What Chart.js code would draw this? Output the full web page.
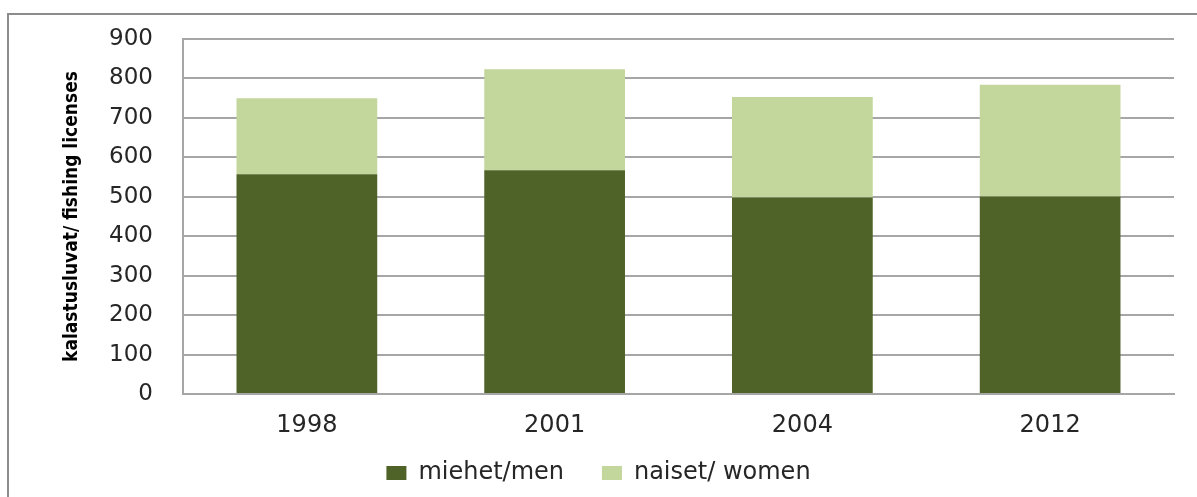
<!DOCTYPE html>
<html>
<head>
<meta charset="utf-8">
<script src="https://cdn.jsdelivr.net/npm/chart.js@4.4.1/dist/chart.umd.min.js"></script>
<style>
  html, body { margin: 0; padding: 0; background: #fff; }
  #wrap { position: relative; width: 1197px; height: 497px; overflow: hidden; }
  #frame { position: absolute; left: 7px; top: 13px; width: 1300px; height: 600px; border: 2px solid #8c8c8c; }
  #chart { position: absolute; left: 0; top: 0; }
</style>
</head>
<body>
<div id="wrap">
  <div id="frame"></div>
  <canvas id="chart" width="1197" height="497"></canvas>
</div>
<script>
// 年ごとのデータ
const years = ['1998', '2001', '2004', '2012'];
const men = [557, 567, 498, 501];
const women = [193, 256, 255, 283];
const yTicks = [0, 100, 200, 300, 400, 500, 600, 700, 800, 900];

const tickFont = { family: "'DejaVu Sans', Verdana, sans-serif", size: 23 };
const labelFont = { family: "'DejaVu Sans', Verdana, sans-serif", size: 24 };

const chartData = {
  labels: years,
  datasets: [
    {
      label: 'miehet/men',
      data: men,
      backgroundColor: '#4F6228',
      categoryPercentage: 1.0,
      barPercentage: 0.568, // 棒の幅
    },
    {
      label: 'naiset/ women',
      data: women,
      backgroundColor: '#C3D69B',
      categoryPercentage: 1.0,
      barPercentage: 0.568,
    },
  ],
};

const config = {
  type: 'bar',
  data: chartData,
  options: {
    responsive: false,
    animation: false,
    layout: {
      padding: { left: 23, right: 23, top: 39, bottom: 2 },
    },
    plugins: {
      tooltip: { enabled: false },
      legend: {
        position: 'bottom',
        labels: {
          boxWidth: 20,
          boxHeight: 14,
          padding: 15,
          color: '#262626',
          font: labelFont,
          // 凡例の間隔を広げる（末尾に空白）
          generateLabels: function (chart) {
            const items = Chart.defaults.plugins.legend.labels.generateLabels(chart);
            items[0].text = items[0].text + '   ';
            return items;
          },
        },
      },
    },
    scales: {
      x: {
        stacked: true,
        grid: { display: false, drawTicks: false },
        border: { color: '#a6a6a6', width: 2 },
        ticks: { color: '#262626', font: labelFont, padding: 17 },
        afterFit: function (scale) {
          scale.height = 52;
        },
      },
      y: {
        stacked: true,
        min: 0,
        max: 900,
        afterBuildTicks: function (scale) {
          scale.ticks = yTicks.map((v) => ({ value: v }));
        },
        grid: { color: '#a6a6a6', lineWidth: 2, drawTicks: false },
        border: { color: '#a6a6a6', width: 2 },
        ticks: { color: '#262626', font: tickFont, padding: 30 },
        title: {
          display: true,
          text: 'kalastusluvat/ fishing licenses',
          color: '#000',
          font: {
            family: "'Liberation Sans Narrow', 'DejaVu Sans Condensed', sans-serif",
            size: 19,
            weight: 'bold',
          },
          padding: { top: 38, bottom: 0 },
        },
        afterFit: function (scale) {
          scale.width = 160;
          scale.paddingTop = 0;
          scale.paddingBottom = 0;
        },
      },
    },
  },
};

// グラフの描画
const ctx = document.getElementById('chart').getContext('2d');
new Chart(ctx, config);
</script>
</body>
</html>
